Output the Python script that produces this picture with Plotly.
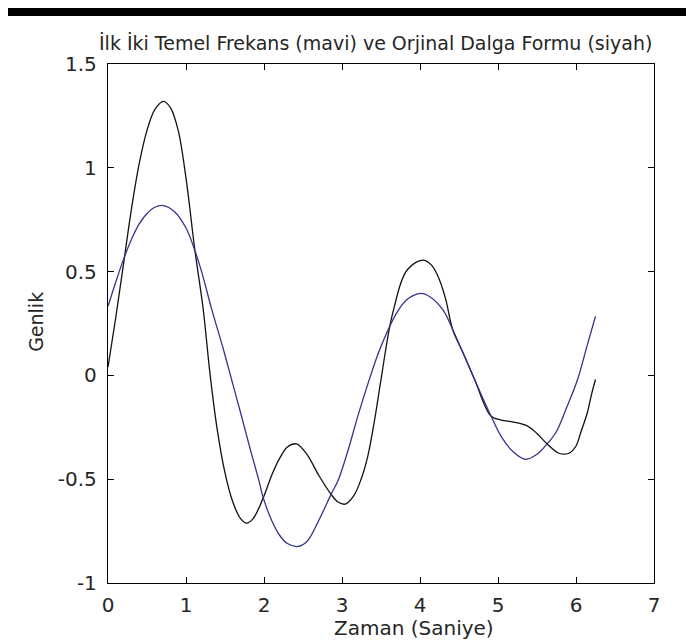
import plotly.graph_objects as go

# orijinal dalga formu (siyah)
t_siyah = [0.00, 0.10, 0.20, 0.30, 0.40, 0.50, 0.60, 0.71, 0.80, 0.90, 1.00, 1.115,
           1.22, 1.31, 1.40, 1.50, 1.60, 1.70, 1.775, 1.86, 1.99, 2.10, 2.20, 2.30,
           2.415, 2.55, 2.70, 2.86, 2.95, 3.04, 3.15, 3.245, 3.33, 3.42, 3.50, 3.65,
           3.84, 4.035, 4.15, 4.25, 4.33, 4.42, 4.55, 4.70, 4.91, 5.04, 5.20, 5.38,
           5.50, 5.63, 5.78, 5.91, 6.00, 6.06, 6.145, 6.20, 6.25]
v_siyah = [0.04, 0.28, 0.54, 0.80, 1.02, 1.18, 1.28, 1.32, 1.29, 1.18, 0.95, 0.60,
           0.32, 0.00, -0.26, -0.47, -0.61, -0.69, -0.712, -0.69, -0.59, -0.48, -0.40, -0.345,
           -0.33, -0.38, -0.48, -0.573, -0.61, -0.62, -0.58, -0.50, -0.39, -0.21, -0.02, 0.30,
           0.51, 0.555, 0.53, 0.46, 0.366, 0.22, 0.11, -0.02, -0.196, -0.215, -0.225, -0.244,
           -0.28, -0.33, -0.375, -0.375, -0.34, -0.276, -0.18, -0.09, -0.02]

# ilk iki temel frekans (mavi)
t_mavi = [0.00, 0.10, 0.20, 0.30, 0.40, 0.50, 0.60, 0.71, 0.85, 1.00, 1.115, 1.20,
          1.33, 1.48, 1.57, 1.70, 1.82, 1.93, 1.99, 2.10, 2.20, 2.30, 2.436, 2.55,
          2.70, 2.86, 2.956, 3.075, 3.20, 3.33, 3.50, 3.715, 3.85, 4.01, 4.10, 4.29,
          4.42, 4.55, 4.70, 4.91, 5.05, 5.20, 5.355, 5.50, 5.63, 5.75, 5.88, 6.02,
          6.14, 6.25]
v_mavi = [0.333, 0.45, 0.56, 0.655, 0.73, 0.78, 0.81, 0.818, 0.79, 0.71, 0.60, 0.50,
          0.318, 0.125, 0.00, -0.18, -0.35, -0.50, -0.589, -0.70, -0.77, -0.81, -0.824, -0.80,
          -0.70, -0.573, -0.50, -0.364, -0.20, -0.043, 0.14, 0.31, 0.37, 0.395, 0.385, 0.318,
          0.22, 0.11, -0.02, -0.196, -0.30, -0.37, -0.404, -0.38, -0.33, -0.27, -0.155, -0.02,
          0.14, 0.285]

x_ticks = [0, 1, 2, 3, 4, 5, 6, 7]
y_ticks = [-1, -0.5, 0, 0.5, 1, 1.5]
y_tick_text = ['-1', '-0.5', '0', '0.5', '1', '1.5']

font = 'DejaVu Sans'
text_color = '#262626'

fig = go.Figure()
fig.add_trace(go.Scatter(x=t_siyah, y=v_siyah, mode='lines',
                         line=dict(color='#111111', width=1.3, shape='spline'),
                         hoverinfo='none'))
fig.add_trace(go.Scatter(x=t_mavi, y=v_mavi, mode='lines',
                         line=dict(color='#34348c', width=1.3, shape='spline'),
                         hoverinfo='none'))

fig.update_layout(
    width=694, height=641,
    margin=dict(l=100, r=48, t=56, b=66),
    paper_bgcolor='white', plot_bgcolor='white',
    showlegend=False,
    font=dict(family=font, size=20, color=text_color),
    annotations=[
        dict(text='İlk İki Temel Frekans (mavi) ve Orjinal Dalga Formu (siyah)',
             xref='paper', yref='paper', x=0.49, y=1.041,
             xanchor='center', yanchor='middle', showarrow=False,
             font=dict(family=font, size=19, color=text_color)),
        dict(text='Zaman (Saniye)', xref='paper', yref='paper', x=0.56, y=-0.087,
             xanchor='center', yanchor='middle', showarrow=False,
             font=dict(family=font, size=20, color=text_color)),
        dict(text='Genlik', xref='paper', yref='paper', x=-0.132, y=0.503,
             xanchor='center', yanchor='middle', showarrow=False, textangle=-90,
             font=dict(family=font, size=19, color=text_color)),
    ],
    shapes=[dict(type='rect', xref='paper', yref='paper', x0=-0.3, x1=1.2,
                 y0=1.0925, y1=1.2, fillcolor='black', line=dict(width=0),
                 layer='above')],
)
fig.update_xaxes(range=[0, 7], tickvals=x_ticks, ticks='inside', ticklen=6,
                 tickcolor='black', showline=True, linecolor='black', linewidth=1.3,
                 mirror='ticks', showgrid=False, zeroline=False, ticklabelstandoff=4)
fig.update_yaxes(range=[-1, 1.5], tickvals=y_ticks, ticktext=y_tick_text,
                 ticks='inside', ticklen=6, tickcolor='black', showline=True,
                 linecolor='black', linewidth=1.3, mirror='ticks', showgrid=False,
                 zeroline=False, ticklabelstandoff=6)

fig.write_html('out.html')
